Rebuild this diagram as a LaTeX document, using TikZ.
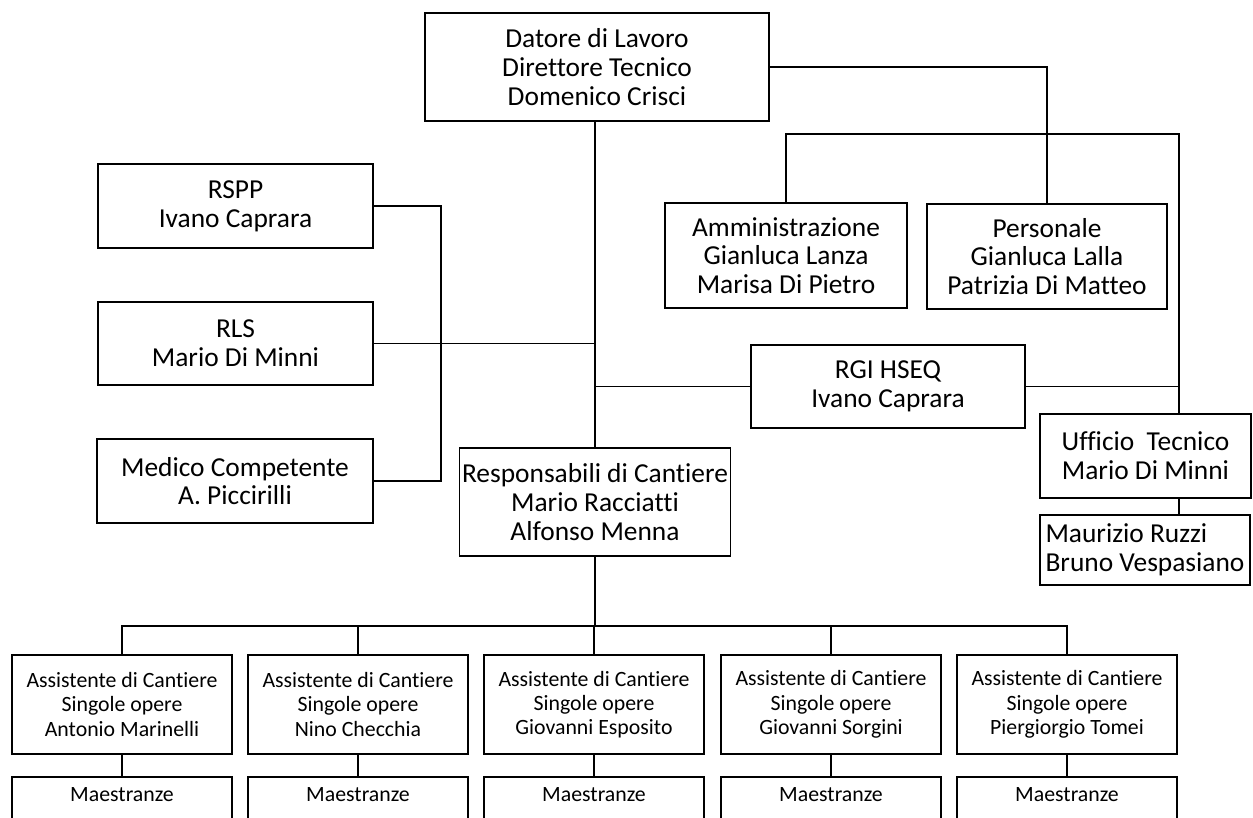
\documentclass[tikz,border=0pt]{standalone}
\usepackage{fontspec}
\setmainfont{Carlito}[Ligatures=NoCommon]
\begin{document}
\begin{tikzpicture}[x=0.5pt,y=-0.5pt,
  box/.style={draw, line width=0.95pt, align=center, inner sep=0pt, font=\fontsize{13.7}{14.4}\selectfont},
  sbox/.style={draw, line width=0.95pt, align=center, inner sep=0pt, font=\fontsize{10.9}{12.1}\selectfont, minimum width=110pt},
  conn/.style={line width=0.95pt}]
\clip (0,0) rectangle (1253,818);
\fill[white] (0,0) rectangle (1253,818);
% upper nodes
\node[box, minimum width=172pt, minimum height=54pt] (top) at (597,67) {Datore di Lavoro\\Direttore Tecnico\\Domenico Crisci};
\node[box, minimum width=137.5pt, minimum height=42pt] (rspp) at (235.5,206) {RSPP\\Ivano Caprara};
\node[box, minimum width=137.5pt, minimum height=41.5pt] (rls) at (235.5,343.5) {RLS\\Mario Di Minni};
\node[box, minimum width=138pt, minimum height=42pt] (med) at (235,481) {Medico Competente\\A. Piccirilli};
\node[box, minimum width=121pt, minimum height=52.5pt] (amm) at (786,255.5) {Amministrazione\\Gianluca Lanza\\Marisa Di Pietro};
\node[box, minimum width=120pt, minimum height=52.5pt] (pers) at (1047,256.5) {Personale\\Gianluca Lalla\\Patrizia Di Matteo};
\node[box, minimum width=137pt, minimum height=41.5pt] (rgi) at (888,386.5) {RGI HSEQ\\Ivano Caprara};
\node[box, minimum width=105.5pt, minimum height=42pt] (uff) at (1145.5,456) {Ufficio~~Tecnico\\Mario Di Minni};
\node[box, align=left, minimum width=105pt, minimum height=35pt] (maur) at (1145,550) {Maurizio Ruzzi\\Bruno Vespasiano};
\node[box, minimum width=135.5pt, minimum height=54pt] (resp) at (595,502) {Responsabili di Cantiere\\Mario Racciatti\\Alfonso Menna};
% assistants
\foreach \i/\x/\n in {1/122/Antonio Marinelli, 2/358/Nino Checchia, 3/594/Giovanni Esposito, 4/831/Giovanni Sorgini, 5/1067/Piergiorgio Tomei}{
  \node[sbox, minimum height=49.5pt] (a\i) at (\x,704.5) {Assistente di Cantiere\\Singole opere\\\n};
  \node[sbox, anchor=north, minimum height=40pt, text depth=22pt] (m\i) at (\x,776) {Maestranze};
  \draw[conn] (a\i.south) -- (m\i.north);
}
% coordinates
\coordinate (lx) at (441,0);
\coordinate (b1) at (1179,134);
\coordinate (bus) at (595,626);
% connectors
\draw[conn] (resp.north) -- (resp.north |- top.south);
\draw[conn] (top.east) -| (pers.north);
\draw[conn] (amm.north) |- (b1) -- (b1 |- uff.north);
\draw[conn] (rgi.west) -- (rgi.west -| resp.north);
\draw[conn] (rgi.east) -- (rgi.east -| b1);
\draw[conn] (b1 |- uff.south) -- (b1 |- maur.north);
\draw[conn] (rls.east) -- (rls.east -| resp.north);
\draw[conn] (rspp.east) -- (rspp.east -| lx) -- (med.east -| lx) -- (med.east);
\draw[conn] (resp.south) -- (bus);
\draw[conn] (a1.north) -- (a1.north |- bus) -- (a5.north |- bus) -- (a5.north);
\draw[conn] (a2.north) -- (a2.north |- bus);
\draw[conn] (a3.north) -- (a3.north |- bus);
\draw[conn] (a4.north) -- (a4.north |- bus);
\end{tikzpicture}
\end{document}
